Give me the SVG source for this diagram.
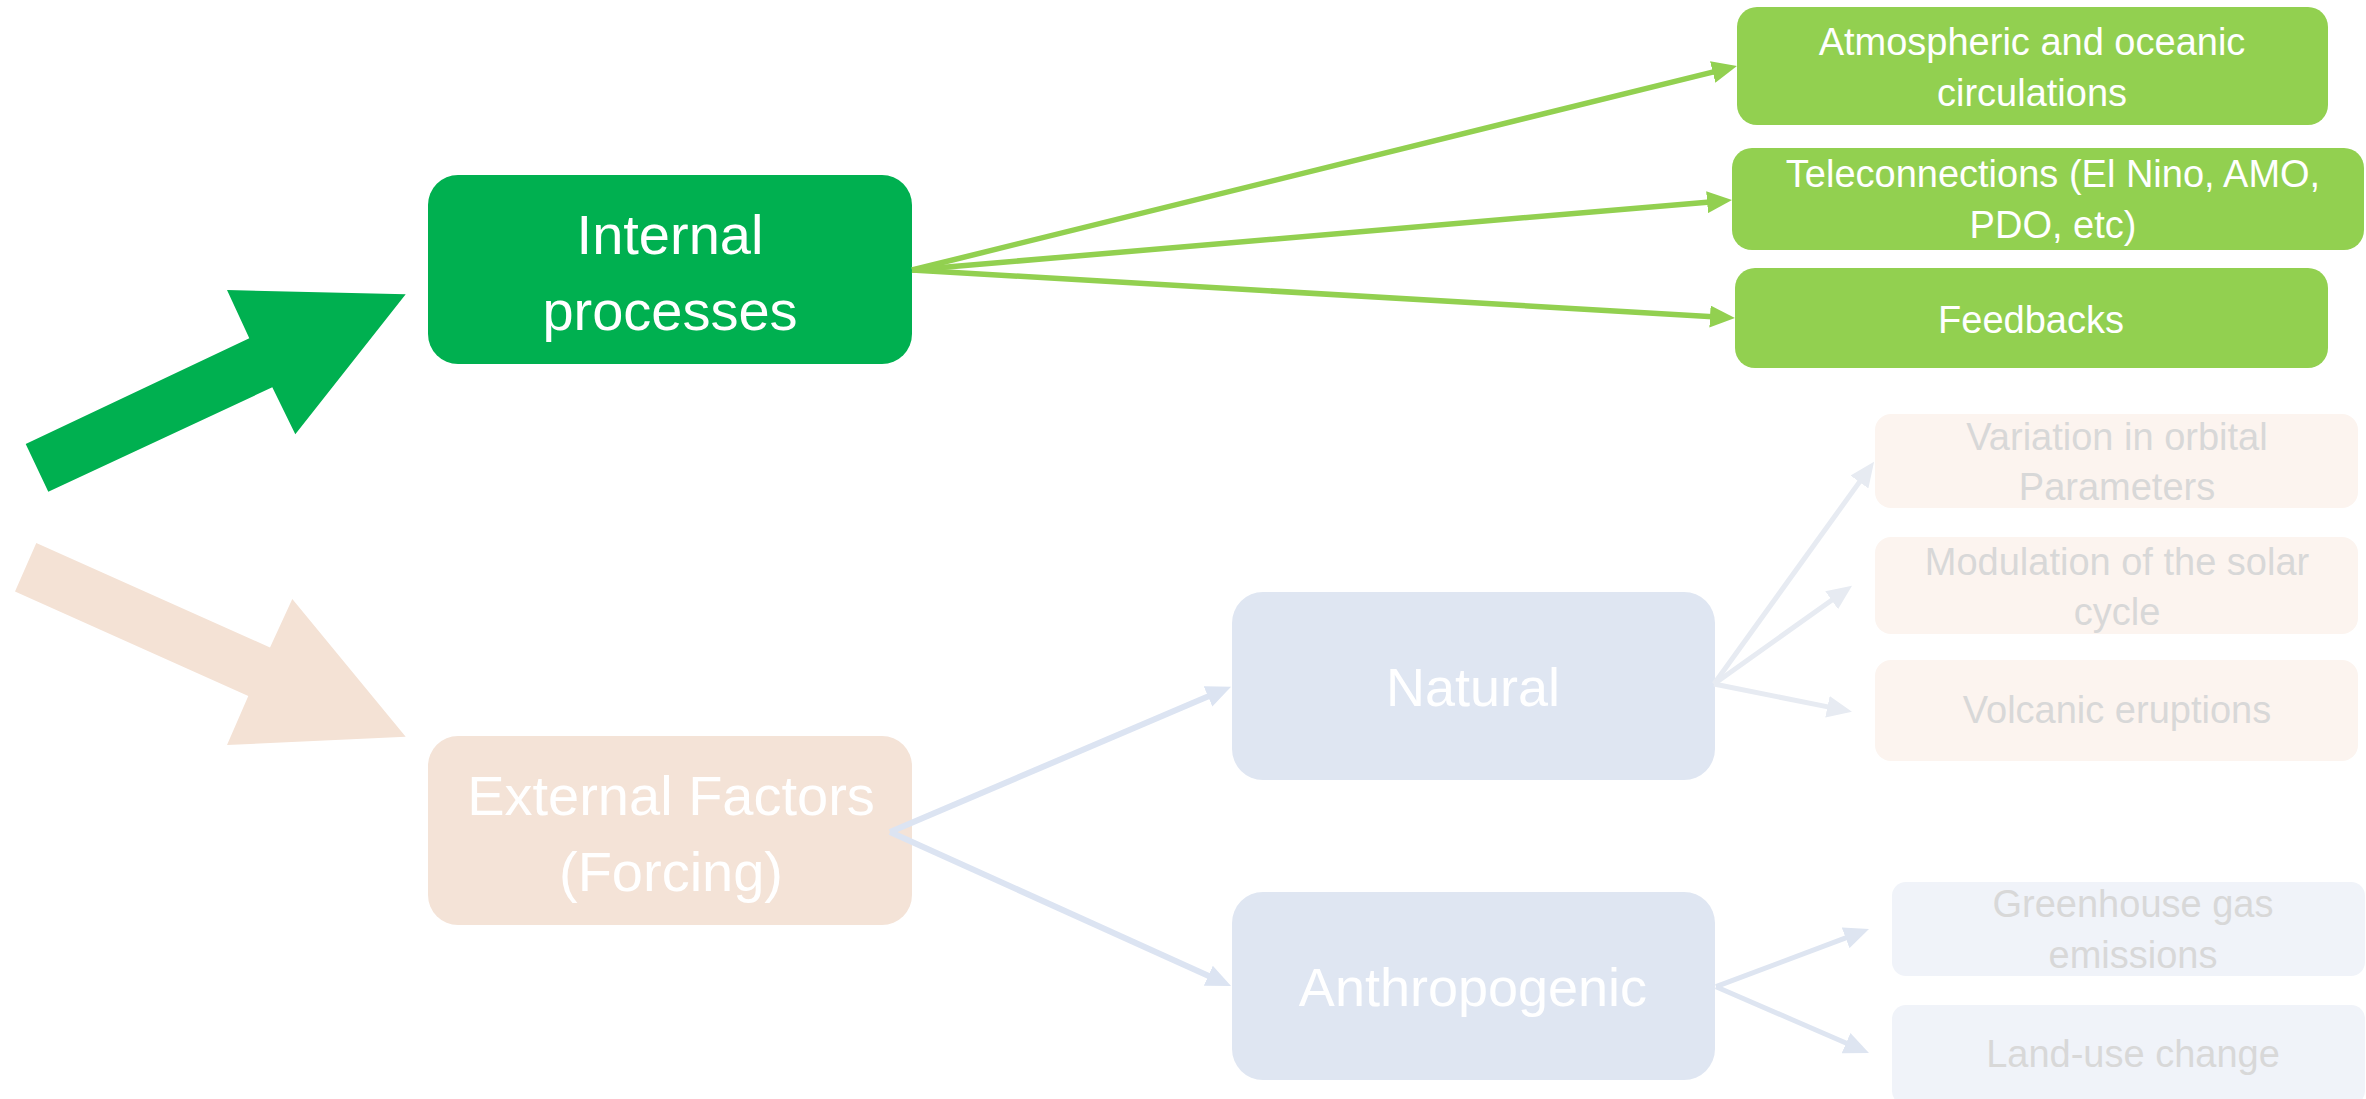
<svg xmlns="http://www.w3.org/2000/svg" width="2366" height="1099" viewBox="0 0 2366 1099">
  <defs>
    <style>
      text { font-family: "Liberation Sans", Arial, sans-serif; text-anchor: middle; }
      .big { font-size: 56px; fill: #FFFFFF; }
      .mid { font-size: 54px; fill: #FFFFFF; }
      .sub { font-size: 38px; fill: #FFFFFF; }
      .faint { font-size: 38px; fill: #D8D8D8; }
      .cg { fill: none; stroke: #92D050; stroke-width: 5.5; }
      .cb { fill: none; stroke: #DCE4F2; stroke-width: 6; }
      .cl { fill: none; stroke: #E7EBF2; stroke-width: 5; }
      .ca { fill: none; stroke: #DEE5F1; stroke-width: 5; }
    </style>
    <marker id="mg" markerUnits="userSpaceOnUse" markerWidth="26" markerHeight="22" refX="3" refY="11" orient="auto">
      <path d="M0,0 L25,11 L0,22 Z" fill="#92D050"/>
    </marker>
    <marker id="mb" markerUnits="userSpaceOnUse" markerWidth="26" markerHeight="22" refX="3" refY="11" orient="auto">
      <path d="M0,0 L25,11 L0,22 Z" fill="#DCE4F2"/>
    </marker>
    <marker id="ml" markerUnits="userSpaceOnUse" markerWidth="26" markerHeight="22" refX="3" refY="11" orient="auto">
      <path d="M0,0 L25,11 L0,22 Z" fill="#E7EBF2"/>
    </marker>
    <marker id="ma" markerUnits="userSpaceOnUse" markerWidth="26" markerHeight="22" refX="3" refY="11" orient="auto">
      <path d="M0,0 L25,11 L0,22 Z" fill="#DEE5F1"/>
    </marker>
  </defs>

  <!-- big block arrows -->
  <g id="arrow-internal">
    <polygon points="25.7,444 249.3,338.3 227,290 405.7,294.3 295.3,434.3 272.3,387.3 48.3,491.8" fill="#00B050"/>
  </g>
  <g id="arrow-external">
    <polygon points="36.3,543 270,647.5 292.3,598.9 405.7,736.7 227,745.1 248.3,696.1 15,591.6" fill="#F4E2D5"/>
  </g>

  <g id="node-internal">
    <rect x="428" y="175" width="484" height="189" rx="30" fill="#00B050"/>
    <text class="big" x="670" y="254">Internal</text>
    <text class="big" x="670" y="330">processes</text>
  </g>
  <g id="node-external">
    <rect x="428" y="736" width="484" height="189" rx="30" fill="#F4E3D7"/>
    <text class="big" x="671" y="815">External Factors</text>
    <text class="big" x="671" y="891">(Forcing)</text>
  </g>
  <g id="node-natural">
    <rect x="1232" y="592" width="483" height="188" rx="31" fill="#DFE6F2"/>
    <text class="mid" x="1473" y="706">Natural</text>
  </g>
  <g id="node-anthropogenic">
    <rect x="1232" y="892" width="483" height="188" rx="31" fill="#DFE6F2"/>
    <text class="mid" x="1473" y="1006">Anthropogenic</text>
  </g>

  <g id="node-atmospheric">
    <rect x="1737" y="7" width="591" height="118" rx="20" fill="#92D050"/>
    <text class="sub" x="2032" y="55">Atmospheric and oceanic</text>
    <text class="sub" x="2032" y="106">circulations</text>
  </g>
  <g id="node-teleconnections">
    <rect x="1732" y="148" width="632" height="102" rx="20" fill="#92D050"/>
    <text class="sub" x="2053" y="187">Teleconnections (El Nino, AMO,</text>
    <text class="sub" x="2053" y="238">PDO, etc)</text>
  </g>
  <g id="node-feedbacks">
    <rect x="1735" y="268" width="593" height="100" rx="20" fill="#92D050"/>
    <text class="sub" x="2031" y="333">Feedbacks</text>
  </g>

  <g id="node-orbital">
    <rect x="1875" y="414" width="483" height="94" rx="16" fill="#FCF4EF"/>
    <text class="faint" x="2117" y="450">Variation in orbital</text>
    <text class="faint" x="2117" y="500">Parameters</text>
  </g>
  <g id="node-solar">
    <rect x="1875" y="537" width="483" height="97" rx="16" fill="#FCF4EF"/>
    <text class="faint" x="2117" y="575">Modulation of the solar</text>
    <text class="faint" x="2117" y="625">cycle</text>
  </g>
  <g id="node-volcanic">
    <rect x="1875" y="660" width="483" height="101" rx="16" fill="#FCF4EF"/>
    <text class="faint" x="2117" y="723">Volcanic eruptions</text>
  </g>
  <g id="node-greenhouse">
    <rect x="1892" y="882" width="473" height="94" rx="14" fill="#F0F3F9"/>
    <text class="faint" x="2133" y="917">Greenhouse gas</text>
    <text class="faint" x="2133" y="968">emissions</text>
  </g>
  <g id="node-landuse">
    <rect x="1892" y="1005" width="473" height="100" rx="14" fill="#F0F3F9"/>
    <text class="faint" x="2133" y="1067">Land-use change</text>
  </g>

  <g id="connectors">
    <path class="cg" d="M912,270 L1715.6,71.3" marker-end="url(#mg)"/>
    <path class="cg" d="M912,270 L1710.1,201.9" marker-end="url(#mg)"/>
    <path class="cg" d="M912,270 L1713.0,316.7" marker-end="url(#mg)"/>
    <path class="cb" d="M890,832 L1210.8,695.3" marker-end="url(#mb)"/>
    <path class="cb" d="M890,832 L1211.0,977.0" marker-end="url(#mb)"/>
    <path class="cl" d="M1714,684 L1861.2,479.6" marker-end="url(#ml)"/>
    <path class="cl" d="M1714,684 L1834.1,598.5" marker-end="url(#ml)"/>
    <path class="cl" d="M1714,684 L1830.4,707.4" marker-end="url(#ml)"/>
    <path class="ca" d="M1716,986.7 L1848.4,936.8" marker-end="url(#ma)"/>
    <path class="ca" d="M1716,986.7 L1848.8,1044.3" marker-end="url(#ma)"/>
  </g>
</svg>
